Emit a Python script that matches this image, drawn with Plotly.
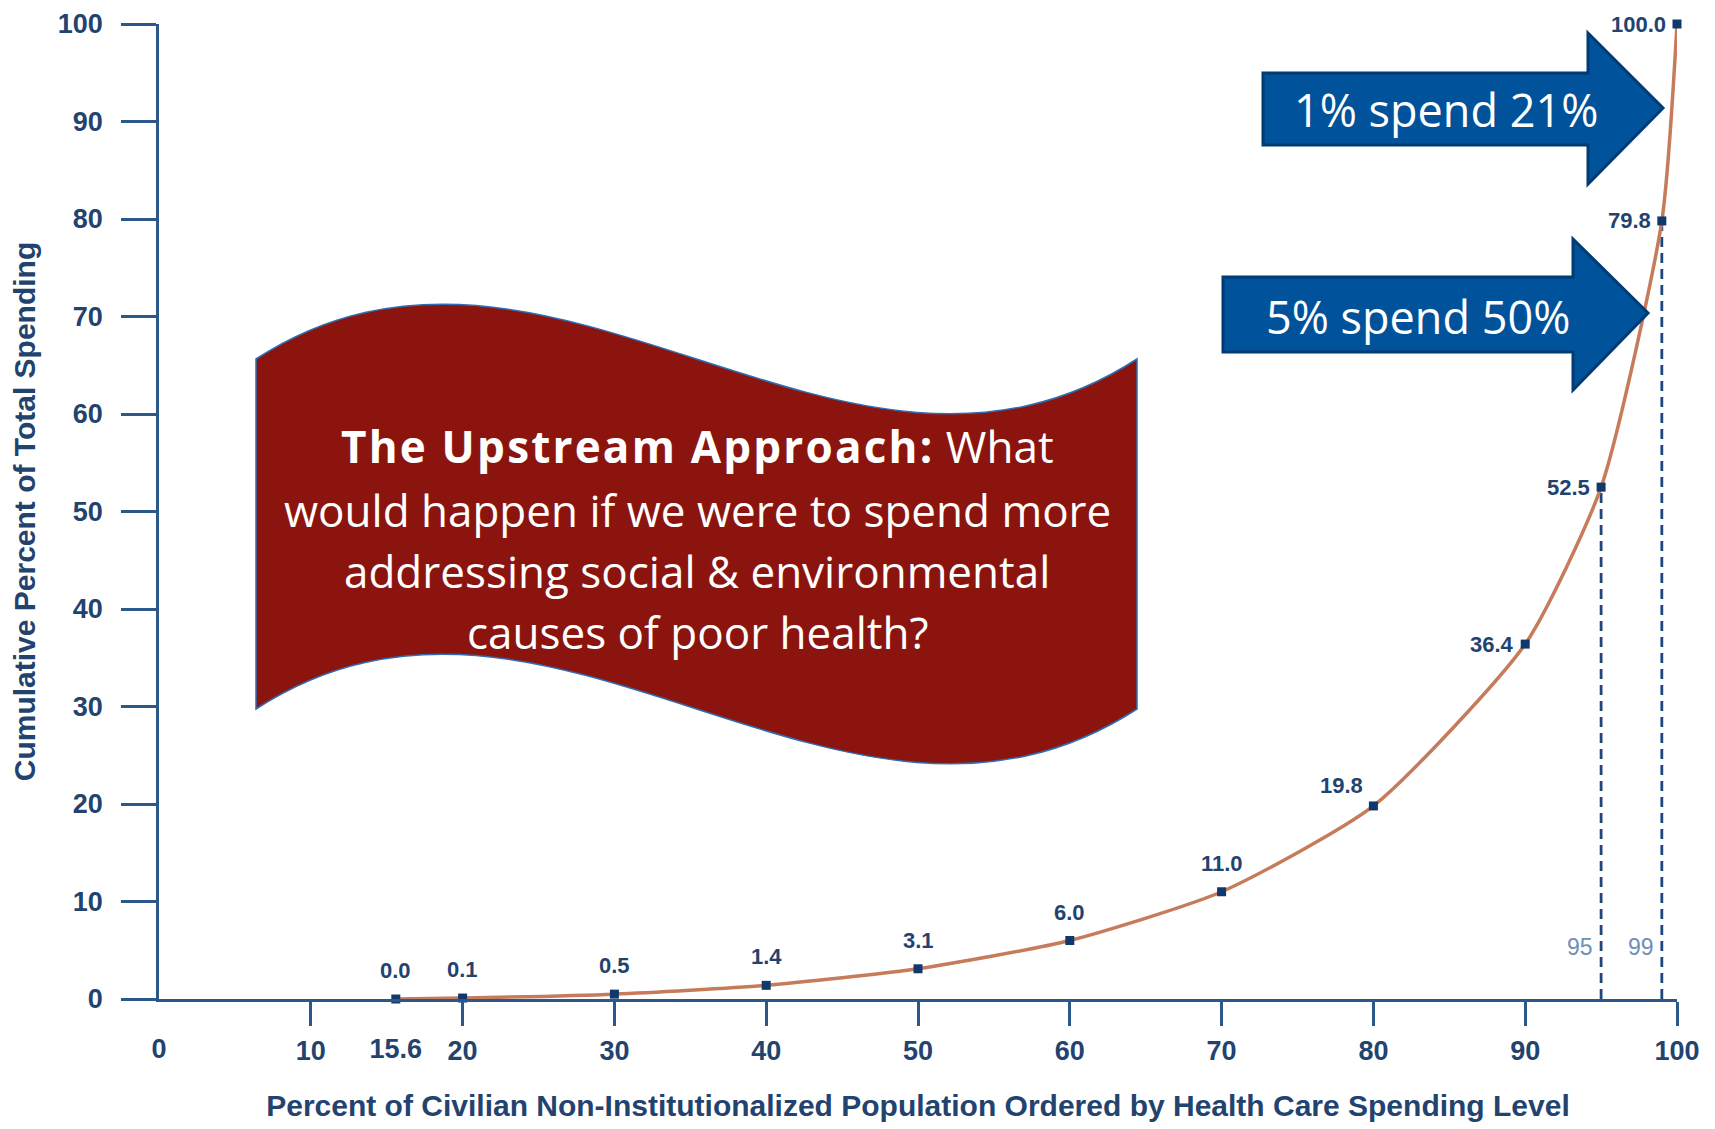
import plotly.graph_objects as go

# ---- data ----
pop_pct = [15.6, 20, 30, 40, 50, 60, 70, 80, 90, 95, 99, 100]
spend_pct = [0.0, 0.1, 0.5, 1.4, 3.1, 6.0, 11.0, 19.8, 36.4, 52.5, 79.8, 100.0]
point_labels = ["0.0", "0.1", "0.5", "1.4", "3.1", "6.0", "11.0", "19.8", "36.4", "52.5", "79.8", "100.0"]
label_side = ["top"] * 7 + ["topleft"] + ["left"] * 4
x_ticks = [10, 20, 30, 40, 50, 60, 70, 80, 90, 100]
x_extra_ticks = [0, 15.6]
x_extra_text = ["0", "15.6"]
y_ticks = [0, 10, 20, 30, 40, 50, 60, 70, 80, 90, 100]
cut_x = [95, 99]
cut_y = [52.5, 79.8]
cut_text = ["95", "99"]
cut_label_y = 5.3

W, H = 1715, 1129
L, R, T, B = 159, 38, 24, 130
PW, PH = W - L - R, H - T - B

def px(X):
    return (X - L) / PW

def py(Y):
    return (H - B - Y) / PH

def path(cmds):
    out = []
    for c in cmds:
        if c[0] in ("M", "L"):
            out.append(f"{c[0]} {px(c[1]):.5f},{py(c[2]):.5f}")
        elif c[0] == "C":
            out.append("C " + " ".join(f"{px(a):.5f},{py(b):.5f}" for a, b in c[1:]))
        else:
            out.append("Z")
    return " ".join(out)

NAVY = "#1f477c"
TXT = "#23436f"
AX = "#2b5889"

fig = go.Figure()

for xv, yv in zip(cut_x, cut_y):
    fig.add_trace(go.Scatter(x=[xv, xv], y=[0, yv], mode="lines",
                             line=dict(color=NAVY, width=2.8, dash="10px,6px"),
                             hoverinfo="skip", showlegend=False, cliponaxis=False))

fig.add_trace(go.Scatter(x=pop_pct, y=spend_pct, mode="lines",
                         line=dict(color="#c67b5b", width=3.5, shape="spline", smoothing=0.6),
                         hoverinfo="skip", showlegend=False, cliponaxis=False))

fig.add_trace(go.Scatter(x=pop_pct, y=spend_pct, mode="markers",
                         marker=dict(symbol="square", size=9, color="#0f386c"),
                         showlegend=False, cliponaxis=False))

fig.add_trace(go.Scatter(x=x_extra_ticks, y=[0, 0], xaxis="x2", mode="markers",
                         marker=dict(opacity=0), hoverinfo="skip", showlegend=False))

label_font = dict(family="Liberation Sans", size=22, color=TXT, weight="bold")
for xv, yv, t, side in zip(pop_pct, spend_pct, point_labels, label_side):
    if side == "top":
        fig.add_annotation(x=xv, y=yv, text=t, showarrow=False, xanchor="center",
                           yanchor="bottom", yshift=14, font=label_font)
    elif side == "topleft":
        fig.add_annotation(x=xv, y=yv, text=t, showarrow=False, xanchor="right",
                           yanchor="bottom", xshift=-8, yshift=6, font=label_font)
    else:
        fig.add_annotation(x=xv, y=yv, text=t, showarrow=False, xanchor="right",
                           yanchor="middle", xshift=-9, font=label_font)

for xv, t in zip(cut_x, cut_text):
    fig.add_annotation(x=xv, y=cut_label_y, text=t, showarrow=False, xanchor="right",
                       yanchor="middle", xshift=-6,
                       font=dict(family="Liberation Sans", size=23, color="#6f90b6"))

# wave banner
bx0, bx1 = 256, 1137
bw = bx1 - bx0
banner = path([("M", bx0, 359),
               ("C", (bx0 + bw / 3, 169), (bx0 + 2 * bw / 3, 549), (bx1, 359)),
               ("L", bx1, 709),
               ("C", (bx0 + 2 * bw / 3, 899), (bx0 + bw / 3, 519), (bx0, 709)),
               ("Z",)])
shapes = [dict(type="path", xref="paper", yref="paper", path=banner,
               fillcolor="#8b150e", line=dict(color="#2f6eb5", width=1.5), layer="above")]

def arrow(x0, yt, yb, xn, ht, hb, xt, ymid):
    return path([("M", x0, yt), ("L", xn, yt), ("L", xn, ht), ("L", xt, ymid),
                 ("L", xn, hb), ("L", xn, yb), ("L", x0, yb), ("Z",)])

for a in [(1263, 73, 145, 1588, 33, 184, 1663, 108), (1223, 277, 352, 1573, 239, 390, 1648, 313)]:
    shapes.append(dict(type="path", xref="paper", yref="paper", path=arrow(*a),
                       fillcolor="#00529b", line=dict(color="#003b74", width=3), layer="above"))

fig.add_annotation(xref="paper", yref="paper", x=px(1446), y=py(110), text="1% spend 21%",
                   showarrow=False, xanchor="center", yanchor="middle",
                   font=dict(family="Open Sans", size=45, color="white"))
fig.add_annotation(xref="paper", yref="paper", x=px(1418), y=py(316), text="5% spend 50%",
                   showarrow=False, xanchor="center", yanchor="middle",
                   font=dict(family="Open Sans", size=45, color="white"))

banner_lines = ["<span style=\"letter-spacing:2.2px\"><b>The Upstream Approach:</b></span> What",
                "would happen if we were to spend more",
                "addressing social &amp; environmental",
                "causes of poor health?"]
for txt, yy in zip(banner_lines, [446, 510, 571, 632]):
    fig.add_annotation(xref="paper", yref="paper", x=px(697), y=py(yy), text=txt,
                       showarrow=False, xanchor="center", yanchor="middle",
                       font=dict(family="Open Sans", size=44, color="white"))

axis_font = dict(family="Liberation Sans", size=27, color=TXT, weight="bold")
title_font = dict(family="Liberation Sans", size=30, color=TXT, weight="bold")

fig.update_layout(
    width=W, height=H, margin=dict(l=L, r=R, t=T, b=B, autoexpand=False),
    paper_bgcolor="white", plot_bgcolor="white", shapes=shapes,
    xaxis=dict(range=[0, 100], tickvals=x_ticks, ticks="outside", ticklen=24, tickwidth=2.5,
               tickcolor=AX, showline=True, linecolor=AX, linewidth=2.5, showgrid=False,
               zeroline=False, tickfont=axis_font, ticklabelstandoff=2, automargin=False,
               title=dict(text="Percent of Civilian Non-Institutionalized Population Ordered by Health Care Spending Level",
                          font=title_font, standoff=30)),
    xaxis2=dict(range=[0, 100], overlaying="x", anchor="y", side="bottom",
                tickvals=x_extra_ticks, ticktext=x_extra_text, ticks="outside", ticklen=24,
                tickcolor="rgba(0,0,0,0)", showline=False, showgrid=False, zeroline=False,
                tickfont=axis_font, ticklabelstandoff=2, automargin=False),
    yaxis=dict(range=[0, 100], tickvals=y_ticks, ticks="outside", ticklen=35, tickwidth=2.5,
               tickcolor=AX, showline=True, linecolor=AX, linewidth=2.5, showgrid=False,
               zeroline=False, tickfont=axis_font, ticklabelstandoff=13, automargin=False,
               title=dict(text="Cumulative Percent of Total Spending", font=title_font, standoff=14)),
)

fig.write_html("out.html")
